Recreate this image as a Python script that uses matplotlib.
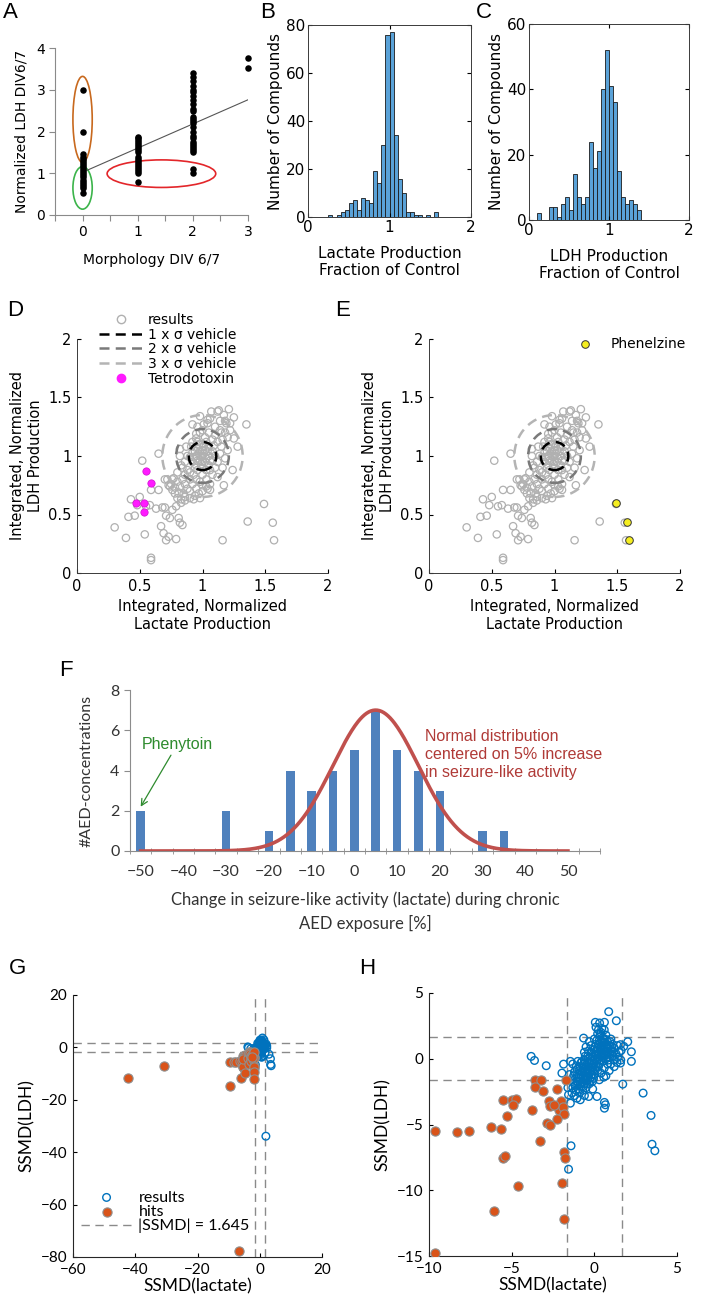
import numpy as np
import matplotlib.pyplot as plt
from matplotlib.patches import Ellipse
from matplotlib.lines import Line2D

# ---------------- data ----------------
# A: normalized LDH per morphology score
a_morph0 = [3.0, 2.0, 1.45, 1.4, 1.35, 1.3, 1.25, 1.2, 1.15, 1.1, 1.05, 1.0, 0.95, 0.9,
            0.85, 0.8, 0.75, 0.7, 0.65, 0.52]
a_morph1 = [1.88, 1.84, 1.8, 1.75, 1.7, 1.65, 1.6, 1.55, 1.5, 1.4, 1.35, 1.3, 1.25, 1.2,
            1.15, 1.1, 1.05, 1.0, 0.8]
a_morph2 = [3.4, 3.3, 3.2, 3.1, 3.0, 2.95, 2.85, 2.75, 2.65, 2.55, 2.5, 2.35, 2.3, 2.25,
            2.2, 2.1, 2.0, 1.9, 1.85, 1.75, 1.7, 1.65, 1.6, 1.55, 1.5, 1.1, 1.0]
a_morph3 = [3.76, 3.52]
a_trend_x = [0.08, 3.0]
a_trend_y = [1.07, 2.76]

# B, C: histograms (bins of 0.05 from 0 to 2)
lactate_counts = [0, 0, 0, 0, 0, 1, 0, 1, 2, 3, 6, 7, 3, 8, 7, 6, 19, 14, 30, 76,
                  77, 34, 16, 10, 2, 2, 1, 1, 0, 1, 0, 2, 0, 0, 0, 0, 0, 0, 0, 0]
ldh_counts = [0, 0, 2, 0, 0, 4, 4, 1, 5, 7, 3, 14, 7, 5, 7, 24, 16, 21, 40, 52,
              41, 36, 15, 7, 5, 6, 5, 3, 0, 0, 0, 0, 0, 0, 0, 0, 0, 0, 0, 0]

# D, E: integrated lactate vs LDH
de_results = [
    (0.30, 0.39), (0.39, 0.30), (0.41, 0.48), (0.43, 0.63), (0.46, 0.49), (0.52, 0.96),
    (0.54, 0.33), (0.59, 0.13), (0.59, 0.11), (0.50, 0.65), (0.48, 0.58), (0.55, 0.57),
    (0.58, 0.58), (0.59, 0.71), (0.63, 0.55), (0.65, 0.71), (0.68, 0.56), (0.70, 0.56),
    (0.67, 0.40), (0.69, 0.34), (0.71, 0.28), (0.73, 0.31), (0.79, 0.29), (0.71, 0.49),
    (0.74, 0.47), (0.76, 0.54), (0.81, 0.47), (0.82, 0.43), (0.84, 0.41), (0.70, 0.80),
    (0.73, 0.75), (0.76, 0.71), (0.77, 0.81), (0.79, 0.57), (0.83, 0.63), (0.86, 0.65),
    (0.81, 0.68), (0.65, 1.02), (0.82, 1.06), (0.95, 1.19), (1.01, 1.27), (1.07, 1.38),
    (1.13, 1.39), (1.21, 1.40), (1.17, 1.35), (1.25, 1.33), (1.35, 1.27), (1.28, 1.08),
    (1.24, 0.88), (1.17, 0.75), (1.06, 0.71), (0.98, 0.64), (0.93, 0.63), (1.16, 0.28),
    (1.36, 0.44), (1.49, 0.59), (1.56, 0.43), (1.57, 0.28), (0.92, 1.27), (0.98, 1.34),
    (1.04, 1.31), (1.19, 1.28), (1.14, 1.22),
    # dense core
    (0.92, 0.95), (0.95, 0.92), (0.95, 1.0), (0.95, 1.07), (0.98, 0.96), (0.98, 1.04),
    (1.0, 0.9), (1.0, 1.0), (1.0, 1.1), (1.02, 0.95), (1.02, 1.05), (1.05, 0.92),
    (1.05, 1.0), (1.05, 1.08), (1.08, 0.96), (1.08, 1.04), (0.92, 1.03), (0.97, 1.1),
    (1.03, 0.88), (1.1, 1.0), (0.9, 0.99), (1.0, 1.05), (1.0, 0.95),
    (0.93, 0.99), (0.94, 1.04), (0.96, 0.96), (0.97, 1.02), (0.99, 0.93), (0.99, 0.99),
    (1.01, 1.02), (1.01, 1.08), (1.03, 0.98), (1.04, 1.04), (1.06, 0.96), (1.07, 1.02),
    (0.96, 1.12), (1.03, 1.12), (0.94, 0.9), (1.06, 0.88), (1.09, 1.09), (0.91, 1.08),
    # surrounding cluster
    (0.8, 0.78), (0.82, 0.74), (0.84, 0.8), (0.86, 0.76), (0.86, 0.84), (0.88, 0.72),
    (0.88, 0.88), (0.9, 0.8), (0.9, 0.86), (0.92, 0.76), (0.93, 0.84), (0.95, 0.8),
    (0.96, 0.88), (0.98, 0.78), (1.0, 0.84), (1.03, 0.8), (0.84, 0.9), (0.8, 0.86),
    (0.76, 0.8), (0.78, 0.73), (0.85, 0.68), (0.9, 0.7), (0.95, 0.72), (1.0, 0.75),
    (1.04, 0.72), (1.06, 0.76), (1.08, 0.84), (1.1, 0.9), (1.12, 0.95), (1.14, 1.02),
    (1.15, 1.08), (1.16, 1.14), (1.18, 1.2), (1.2, 1.16), (1.22, 1.22), (1.12, 1.12),
    (1.1, 1.18), (1.08, 1.14), (1.05, 1.2), (1.02, 1.16), (0.98, 1.2), (0.95, 1.15),
    (1.1, 1.25), (1.15, 1.2), (1.2, 1.05), (1.18, 0.98), (1.25, 1.15), (1.22, 1.28),
    (0.96, 1.25), (1.04, 1.28), (0.88, 1.0), (0.86, 0.95), (0.83, 0.92), (0.82, 1.0),
    (0.87, 1.08), (1.12, 0.82), (1.16, 0.9), (1.06, 1.32), (1.14, 1.3), (0.92, 1.12),
    (0.75, 0.76), (0.72, 0.8), (0.78, 0.68), (0.94, 0.66), (0.86, 0.62), (0.9, 0.64),
    (1.0, 0.7), (1.03, 0.74), (0.8, 0.64), (0.83, 0.6), (0.74, 0.74), (0.97, 0.68),
    (1.0, 1.22), (1.12, 1.38), (1.18, 1.3),
]
tetrodotoxin = [(0.55, 0.87), (0.59, 0.77), (0.47, 0.60), (0.53, 0.60), (0.53, 0.52)]
phenelzine = [(1.49, 0.60), (1.58, 0.44), (1.59, 0.28)]
sigma_rx = [0.11, 0.21, 0.32]
sigma_ry = [0.12, 0.23, 0.35]
sigma_labels = ['1 x σ vehicle', '2 x σ vehicle', '3 x σ vehicle']
sigma_colors = ['black', '#7a7a7a', '#b4b4b4']

# F: AED concentrations histogram
f_change = [-50, -30, -20, -15, -10, -5, 0, 5, 10, 15, 20, 30, 35]
f_counts = [2, 2, 1, 4, 3, 4, 5, 7, 5, 4, 3, 1, 1]
f_norm_mean, f_norm_sd, f_norm_peak = 5, 10, 7

# G, H: SSMD
ssmd_cut = 1.645
h_results = [
    (-3.82, 0.18), (-3.62, -0.13), (-2.91, -0.53), (-1.86, -0.41), (-1.96, -1.09),
    (-1.41, -6.62), (-1.56, -8.40), (-1.56, -2.74), (-1.05, -3.0), (-1.45, -3.38),
    (-0.65, 1.57), (0.06, 2.77), (0.32, 2.72), (0.61, 2.77), (0.87, 3.58), (1.33, 2.89),
    (0.36, 1.88), (2.02, 1.29), (2.24, 0.53), (2.24, -0.20), (1.72, -1.93), (2.95, -2.61),
    (3.43, -4.31), (3.49, -6.50), (3.66, -7.00), (0.61, -3.32), (0.61, -3.76), (0.67, -3.50),
    (-0.34, -2.87), (0.16, -2.87), (-0.85, -3.12), (0.57, -1.40), (1.58, -0.33), (1.37, -0.28),
    (1.58, 1.07), (1.62, 0.63), (1.78, 0.94), (0.57, 1.45),
    # dense core
    (-1.4, -1.6), (-1.3, -2.2), (-1.2, -1.0), (-1.2, -1.8), (-1.1, -2.4), (-1.1, -0.6),
    (-1.0, -1.4), (-1.0, -2.0), (-0.9, -0.9), (-0.9, -1.7), (-0.9, -2.6), (-0.8, -0.3),
    (-0.8, -1.2), (-0.8, -2.1), (-0.7, -0.7), (-0.7, -1.5), (-0.7, -2.4), (-0.6, -0.1),
    (-0.6, -1.0), (-0.6, -1.9), (-0.5, -0.5), (-0.5, -1.3), (-0.5, -2.2), (-0.4, 0.2),
    (-0.4, -0.8), (-0.4, -1.6), (-0.3, -0.3), (-0.3, -1.1), (-0.3, -1.9), (-0.2, 0.4),
    (-0.2, -0.6), (-0.2, -1.4), (-0.1, 0.1), (-0.1, -0.9), (-0.1, -1.7), (0.0, 0.7),
    (0.0, -0.3), (0.0, -1.2), (0.1, 0.3), (0.1, -0.6), (0.1, 1.1), (0.2, 0.0), (0.2, 0.8),
    (0.2, -0.9), (0.3, 0.5), (0.3, 1.4), (0.3, -0.4), (0.4, 0.2), (0.4, 1.0), (0.4, -1.1),
    (0.5, 0.7), (0.5, 1.6), (0.5, -0.2), (0.6, 0.3), (0.6, 1.2), (0.6, -0.7), (0.7, 0.9),
    (0.7, 0.0), (0.7, 1.8), (0.8, 0.5), (0.8, 1.3), (0.8, -0.4), (0.9, 1.0), (0.9, 0.1),
    (1.0, 0.6), (1.0, 1.5), (1.1, 0.2), (1.1, 1.1), (1.2, 0.8), (1.2, -0.1), (1.3, 0.4),
    (1.4, 1.0), (-0.6, 0.5), (-1.0, -0.2), (0.0, 1.5), (0.2, 1.9), (-1.3, -0.4), (0.9, -0.9),
    (1.2, -0.6), (-0.2, 1.0), (0.4, 2.0), (0.6, 2.2), (0.1, 2.4), (-0.3, 1.3), (-0.5, 0.9),
    (-1.2, -2.8), (-0.6, -2.8), (-0.1, -2.3), (0.3, -1.6), (0.7, -1.3), (1.0, -0.4),
    (1.4, 0.1), (1.5, 0.5), (1.6, -0.1), (-1.5, -1.2), (-1.6, -2.2), (-1.45, -0.2),
    (-1.35, -2.6),
    (-1.25, -1.3), (-1.15, -2.0), (-1.05, -0.8), (-1.05, -1.7), (-0.95, -1.2), (-0.95, -2.3),
    (-0.85, -0.6), (-0.85, -1.5), (-0.85, -1.9), (-0.75, -1.0), (-0.75, -1.8), (-0.65, -0.4),
    (-0.65, -1.3), (-0.65, -2.1), (-0.55, -0.8), (-0.55, -1.6), (-0.45, -0.2), (-0.45, -1.1),
    (-0.45, -1.9), (-0.35, -0.6), (-0.35, -1.4), (-0.25, 0.1), (-0.25, -0.9), (-0.25, -1.7),
    (-0.15, -0.3), (-0.15, -1.2), (-0.05, 0.4), (-0.05, -0.6), (-0.05, -1.5), (0.05, 0.0),
    (0.05, 0.9), (0.05, -0.9), (0.15, 0.6), (0.15, -0.3), (0.15, 1.4), (0.25, 0.3),
    (0.25, 1.1), (0.25, -0.6), (0.35, 0.8), (0.35, -0.1), (0.35, 1.7), (0.45, 0.4),
    (0.45, 1.3), (0.55, 1.0), (0.55, 0.1), (0.65, 0.6), (0.65, 1.5), (0.75, 0.3),
    (0.75, 1.1), (0.85, 0.8), (0.85, -0.1), (0.95, 0.4), (0.95, 1.3), (1.05, 0.9),
    (1.15, 0.5), (-0.55, 0.2), (-0.75, -0.2), (-0.35, 0.6), (0.45, 2.3), (0.25, 2.2),
]
h_hits = [
    (-9.64, -5.53), (-9.64, -14.8), (-8.32, -5.56), (-7.56, -5.46), (-6.26, -5.20),
    (-5.66, -5.33), (-6.06, -11.6), (-5.54, -7.56), (-5.43, -7.39), (-5.54, -3.17),
    (-4.95, -3.17), (-4.73, -3.07), (-4.93, -3.55), (-5.29, -4.34), (-4.59, -9.64),
    (-3.78, -3.93), (-3.58, -1.60), (-3.21, -1.65), (-3.58, -2.16), (-3.13, -2.49),
    (-3.31, -6.29), (-2.73, -3.25), (-2.67, -3.63), (-2.87, -4.90), (-2.71, -5.03),
    (-2.26, -2.31), (-2.02, -3.20), (-2.16, -3.93), (-1.92, -3.68), (-1.86, -4.21),
    (-2.26, -4.59), (-1.82, -7.06), (-1.80, -7.56), (-1.96, -9.47), (-1.86, -12.2),
    (-1.72, -1.65), (-2.46, -3.50),
]
g_extra_results = [(1.97, -33.9)]
g_extra_hits = [(-42.3, -11.8), (-30.7, -7.1), (-6.8, -77.7)]

# ---------------- figure ----------------
W, H = 709, 1308
fig = plt.figure(figsize=(W / 100, H / 100), dpi=100)


def box(l, t, r, b):
    return [l / W, 1 - b / H, (r - l) / W, (b - t) / H]


def letter(x, y, s):
    fig.text(x / W, 1 - y / H, s, fontsize=16, family='Liberation Sans',
             ha='center', va='center')


def xy(pts):
    return [p[0] for p in pts], [p[1] for p in pts]


# ---- A
ax = fig.add_axes(box(55, 48, 248, 215))
for xv, ys in zip([0, 1, 2, 3], [a_morph0, a_morph1, a_morph2, a_morph3]):
    ax.scatter([xv] * len(ys), ys, s=22, color='black', zorder=3, linewidths=0,
               clip_on=False)
ax.plot(a_trend_x, a_trend_y, color='#555555', lw=0.8)
ax.add_patch(Ellipse((0, 2.29), 0.35, 2.06, fill=False, ec='#c8691e', lw=1.2))
ax.add_patch(Ellipse((0, 0.65), 0.35, 1.02, fill=False, ec='#3cb44b', lw=1.2))
ax.add_patch(Ellipse((1.43, 0.99), 1.97, 0.66, fill=False, ec='#e3262a', lw=1.2))
ax.set_xlim(-0.5, 3)
ax.set_ylim(0, 4)
ax.set_xticks(np.arange(-0.5, 3.01, 0.5))
ax.set_xticklabels(['', '0', '', '1', '', '2', '', '3'])
ax.set_yticks([0, 1, 2, 3, 4])
for s in ['top', 'right']:
    ax.spines[s].set_visible(False)
for s in ['left', 'bottom']:
    ax.spines[s].set_color('#8a8a8a')
ax.tick_params(direction='out', length=4, color='#8a8a8a', labelsize=10, pad=3)
ax.set_xlabel('Morphology DIV 6/7', fontsize=10, labelpad=10)
ax.set_ylabel('Normalized LDH DIV6/7', fontsize=10, labelpad=6)
letter(10, 13, 'A')

# ---- B, C
edges = np.linspace(0, 2, 41)
for (l, t, r, b), counts, ymax, yt, lab, let, lx in [
        ((308, 25, 471, 217), lactate_counts, 80, [0, 20, 40, 60, 80],
         'Lactate Production\nFraction of Control', 'B', 268),
        ((529, 24, 689, 220), ldh_counts, 60, [0, 20, 40, 60],
         'LDH Production\nFraction of Control', 'C', 484)]:
    ax = fig.add_axes(box(l, t, r, b))
    ax.hist(edges[:-1], bins=edges, weights=counts, color='#5aa2d8',
            edgecolor='#1a1a1a', linewidth=0.6)
    ax.set_xlim(0, 2)
    ax.set_ylim(0, ymax)
    ax.set_xticks([0, 1, 2])
    ax.set_yticks(yt)
    for s in ax.spines.values():
        s.set_color('#3a3a3a')
        s.set_linewidth(0.7)
    ax.tick_params(direction='in', top=True, right=True, length=3, labelsize=11, pad=2)
    ax.set_ylabel('Number of Compounds', fontsize=11, labelpad=2)
    ax.set_xlabel(lab, fontsize=11, labelpad=8)
    letter(lx, 13, let)

# ---- D, E
rx, ry = xy(de_results)
for (l, r), which, let, lx in [((77, 328), 'D', 'D', 15), ((429, 680), 'E', 'E', 343)]:
    ax = fig.add_axes(box(l, 339, r, 573))
    ax.scatter(rx, ry, s=28, facecolors='none', edgecolors='#b0b0b0', linewidths=0.9)
    for sx, sy, c in zip(sigma_rx, sigma_ry, sigma_colors):
        ax.add_patch(Ellipse((1.0, 1.0), 2 * sx, 2 * sy, fill=False, ec=c, lw=1.8,
                             ls=(0, (4, 2.5)), zorder=4))
    if which == 'D':
        tx, ty = xy(tetrodotoxin)
        ax.scatter(tx, ty, s=28, color='#ff1aff', edgecolors='#d010d0', linewidths=0.5,
                   zorder=5)
    else:
        px, py = xy(phenelzine)
        ax.scatter(px, py, s=30, color='#f5ee20', edgecolors='#333333', linewidths=0.7,
                   zorder=5)
        ax.scatter([1.24], [1.96], s=30, color='#f5ee20', edgecolors='#333333',
                   linewidths=0.7, zorder=5, clip_on=False)
        ax.text(1.45, 1.96, 'Phenelzine', fontsize=10, va='center')
    ax.set_xlim(0, 2)
    ax.set_ylim(0, 2)
    ax.set_xticks([0, 0.5, 1, 1.5, 2])
    ax.set_yticks([0, 0.5, 1, 1.5, 2])
    ax.set_xticklabels(['0', '0.5', '1', '1.5', '2'])
    ax.set_yticklabels(['0', '0.5', '1', '1.5', '2'])
    for s in ['top', 'right']:
        ax.spines[s].set_visible(False)
    for s in ['left', 'bottom']:
        ax.spines[s].set_color('#3a3a3a')
        ax.spines[s].set_linewidth(0.7)
    ax.tick_params(direction='in', length=3, labelsize=10.5, pad=4)
    ax.set_xlabel('Integrated, Normalized\nLactate Production', fontsize=10.5, labelpad=4)
    ax.set_ylabel('Integrated, Normalized\nLDH Production', fontsize=10.5, labelpad=4)
    letter(lx, 311, let)

handles = [Line2D([], [], ls='none', marker='o', mfc='none', mec='#b0b0b0', ms=6)]
for c in sigma_colors:
    handles.append(Line2D([], [], color=c, lw=1.8, ls=(0, (4, 2.5))))
handles.append(Line2D([], [], ls='none', marker='o', color='#ff1aff', ms=6))
fig.legend(handles, ['results'] + sigma_labels + ['Tetrodotoxin'], loc='upper left',
           bbox_to_anchor=(92 / W, 1 - 306 / H), frameon=False, fontsize=10,
           handlelength=3.2, labelspacing=0.05, handletextpad=0.3, borderpad=0)

# ---- F
ax = fig.add_axes(box(130, 690, 600, 851))
ax.bar(f_change, f_counts, width=2.0, color='#4f81bd', zorder=2)
xc = np.linspace(-50, 50, 400)
ax.plot(xc, f_norm_peak * np.exp(-0.5 * ((xc - f_norm_mean) / f_norm_sd) ** 2),
        color='#c0504d', lw=2.6, zorder=3)
ax.set_xlim(-52.5, 57.5)
ax.set_ylim(0, 8)
ax.set_xticks(range(-50, 51, 10))
ax.set_xticks(np.arange(-52.5, 57.6, 5), minor=True)
ax.set_yticks([0, 2, 4, 6, 8])
for s in ['top', 'right']:
    ax.spines[s].set_visible(False)
for s in ['left', 'bottom']:
    ax.spines[s].set_color('#8c8c8c')
ax.tick_params(axis='x', which='major', length=0, labelsize=11.5, pad=10,
               labelcolor='#333333')
ax.tick_params(axis='x', which='minor', direction='inout', length=5, color='#8c8c8c')
ax.tick_params(axis='y', direction='out', length=4, color='#8c8c8c', labelsize=11.5,
               labelcolor='#333333')
for lab in ax.get_xticklabels() + ax.get_yticklabels():
    lab.set_family('Lato')
ax.set_xlabel('Change in seizure-like activity (lactate) during chronic\nAED exposure [%]',
              fontsize=12, family='Lato', color='#333333', labelpad=9, linespacing=1.5)
ax.set_ylabel('#AED-concentrations', fontsize=11.5, family='Lato', color='#333333',
              labelpad=12)
ax.text(16.5, 6.05, 'Normal distribution\ncentered on 5% increase\nin seizure-like activity',
        color='#b03a37', fontsize=11.5, family='Liberation Sans', va='top',
        linespacing=1.25)
ax.annotate('Phenytoin', xy=(-50, 2.2), xytext=(-41.5, 4.9), color='#2e8b2e',
            fontsize=11.5, family='Liberation Sans', ha='center', va='bottom',
            arrowprops=dict(arrowstyle='->', color='#2e8b2e', lw=0.9,
                            shrinkA=0, shrinkB=0))
letter(66, 670, 'F')

# ---- G, H
hrx, hry = xy(h_results)
hhx, hhy = xy(h_hits)
grx, gry = xy(h_results + g_extra_results)
ghx, ghy = xy(h_hits + g_extra_hits)
for (l, t, r, b), (rxs, rys), (hxs, hys), lims, let, lx in [
        ((73, 995, 322, 1257), (grx, gry), (ghx, ghy),
         ((-60, 20), (-80, 20), [-60, -40, -20, 0, 20], [-80, -60, -40, -20, 0, 20]), 'G', 17),
        ((429, 993, 677, 1256), (hrx, hry), (hhx, hhy),
         ((-10, 5), (-15, 5), [-10, -5, 0, 5], [-15, -10, -5, 0, 5]), 'H', 367)]:
    ax = fig.add_axes(box(l, t, r, b))
    ax.scatter(rxs, rys, s=30, facecolors='none', edgecolors='#0072bd', linewidths=1.0,
               label='results', zorder=2)
    ax.scatter(hxs, hys, s=44, color='#d95319', edgecolors='#8f8f8f', linewidths=0.8,
               label='hits', zorder=3)
    dash = (0, (6, 4))
    ax.axvline(-ssmd_cut, color='#8a8a8a', lw=1, ls=dash, zorder=1,
               label='|SSMD| = 1.645')
    ax.axvline(ssmd_cut, color='#8a8a8a', lw=1, ls=dash, zorder=1)
    ax.axhline(-ssmd_cut, color='#8a8a8a', lw=1, ls=dash, zorder=1)
    ax.axhline(ssmd_cut, color='#8a8a8a', lw=1, ls=dash, zorder=1)
    ax.set_xlim(*lims[0])
    ax.set_ylim(*lims[1])
    ax.set_xticks(lims[2])
    ax.set_yticks(lims[3])
    for s in ['top', 'right']:
        ax.spines[s].set_visible(False)
    for s in ['left', 'bottom']:
        ax.spines[s].set_color('#262626')
        ax.spines[s].set_linewidth(0.8)
    ax.tick_params(direction='in', length=3, labelsize=11, pad=4)
    for lab in ax.get_xticklabels() + ax.get_yticklabels():
        lab.set_family('Lato')
    ax.set_xlabel('SSMD(lactate)', fontsize=12.5, family='Lato', labelpad=1)
    ax.set_ylabel('SSMD(LDH)', fontsize=12.5, family='Lato', labelpad=4)
    if let == 'G':
        ax.legend(loc='lower left', bbox_to_anchor=(0.0, 0.06), frameon=False,
                  prop={'family': 'Lato', 'size': 11.5}, handlelength=3.2,
                  labelspacing=0.0, handletextpad=0.4, borderpad=0)
    letter(lx, 968, let)

fig.savefig('out.png', dpi=100)
